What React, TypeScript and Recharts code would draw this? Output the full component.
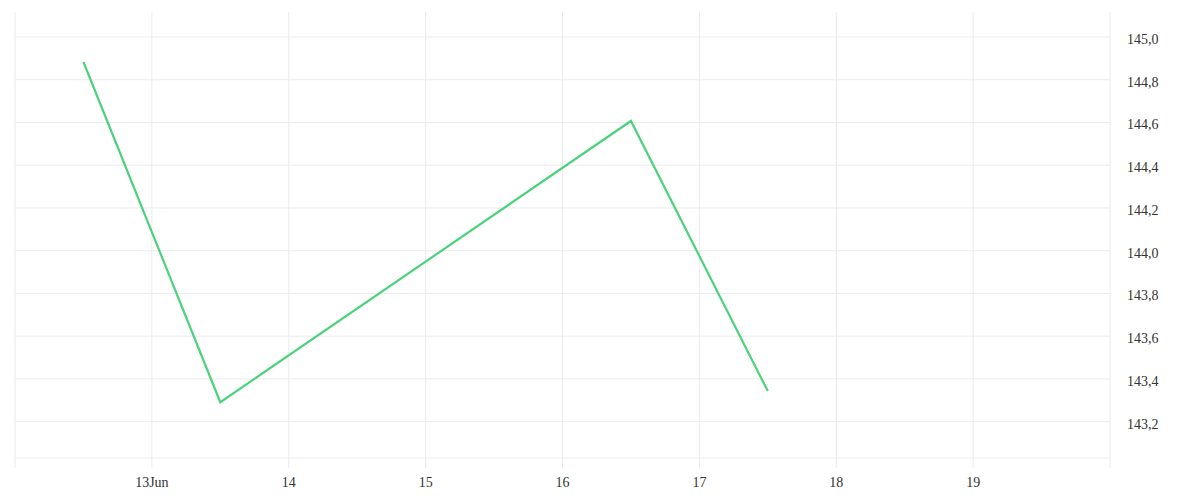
import { LineChart, Line, XAxis, YAxis, CartesianGrid } from "recharts";

// day of June (half days = mid-day points)
const days = [12.5, 13.5, 16.5, 17.5];
const prices = [144.883, 143.291, 144.607, 143.343];

const xTicks = [12, 13, 14, 15, 16, 17, 18, 19, 20];
const yTicks = [143.2, 143.4, 143.6, 143.8, 144.0, 144.2, 144.4, 144.6, 144.8, 145.0];
const yDomain = [143.03, 145.117];

const data = days.map((d, i) => ({ day: d, price: prices[i] }));

const gridColor = "#ebebeb";
const tickFont = { fill: "#333", fontSize: 14, fontFamily: "Liberation Serif" };

function formatDay(d: number) {
  if (d === 12 || d === 20) return "";
  if (d === 13) return "13Jun";
  return String(d);
}

// only the tick lines, no line along the top edge
function horizontalLines({ offset }: any) {
  const [lo, hi] = yDomain;
  return yTicks.map((v) => offset.top + ((hi - v) / (hi - lo)) * offset.height);
}

export default function App() {
  return (
    <LineChart
      width={1192}
      height={490}
      data={data}
      margin={{ top: 4, right: 10, bottom: 10, left: 7 }}
    >
      <CartesianGrid stroke={gridColor} horizontalCoordinatesGenerator={horizontalLines} />
      <XAxis
        dataKey="day"
        type="number"
        domain={[12, 20]}
        ticks={xTicks}
        tickFormatter={formatDay}
        height={30}
        tickSize={10}
        tickMargin={9}
        axisLine={{ stroke: gridColor }}
        tickLine={{ stroke: gridColor }}
        tick={tickFont}
        interval={0}
      />
      <YAxis
        orientation="right"
        type="number"
        domain={yDomain}
        allowDataOverflow
        ticks={yTicks}
        tickFormatter={(v: number) => v.toFixed(1).replace(".", ",")}
        width={80}
        axisLine={false}
        tickLine={false}
        tickMargin={11}
        tick={{ ...tickFont, textAnchor: "start", dy: 2 }}
        interval={0}
      />
      <Line
        type="linear"
        dataKey="price"
        stroke="#4cd27c"
        strokeWidth={2.2}
        dot={false}
        isAnimationActive={false}
      />
    </LineChart>
  );
}
